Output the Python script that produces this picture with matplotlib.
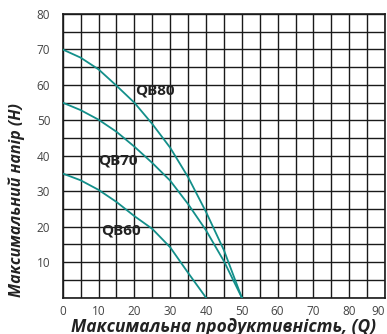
import matplotlib
matplotlib.use('Agg')
import matplotlib.pyplot as plt
import numpy as np

# QB80 curve
qb80_q = [0, 5, 10, 15, 20, 25, 30, 35, 40, 45, 50]
qb80_h = [70, 67.7, 64.4, 59.8, 55, 49, 42.3, 34, 24.2, 13.4, 0]
# QB70 curve
qb70_q = [0, 5, 10, 15, 20, 25, 30, 35, 40, 45, 50]
qb70_h = [55, 52.9, 50.2, 46.8, 42.6, 38, 33, 26.4, 19, 10.3, 0]
# QB60 curve
qb60_q = [0, 5, 10, 15, 20, 25, 30, 35, 40]
qb60_h = [35, 33.1, 30.4, 27, 23, 19.4, 14.2, 7, 0]

labels = ['QB80', 'QB70', 'QB60']
label_pos = [(25.8, 58.5), (15.3, 38.8), (16.3, 19)]

x_ticks = [0, 10, 20, 30, 40, 50, 60, 70, 80, 90]
y_ticks = [10, 20, 30, 40, 50, 60, 70, 80]

curve_color = '#138f8a'

fig = plt.figure(figsize=(3.87, 3.34), dpi=100)
ax = fig.add_axes([0.162, 0.109, 0.833, 0.849])

ax.set_xlim(0, 90)
ax.set_ylim(0, 80)
ax.set_xticks(np.arange(0, 91, 5), minor=True)
ax.set_yticks(np.arange(0, 81, 5), minor=True)
ax.set_xticks(x_ticks)
ax.set_yticks(y_ticks)
ax.grid(True, which='both', color='#1a1a1a', linewidth=1.0)
ax.tick_params(which='both', length=0, labelsize=8.5, labelcolor='#444444')
ax.tick_params(axis='x', pad=5)
ax.tick_params(axis='y', pad=9)
for t in ax.get_xticklabels() + ax.get_yticklabels():
    t.set_family('Open Sans')
ax.get_xticklabels()[-1].set_ha('right')
for s in ax.spines.values():
    s.set_color('#1a1a1a')
    s.set_linewidth(1.2)
ax.set_axisbelow(True)

for q, h in [(qb80_q, qb80_h), (qb70_q, qb70_h), (qb60_q, qb60_h)]:
    ax.plot(q, h, color=curve_color, linewidth=1.3, zorder=3)

for name, (x, y) in zip(labels, label_pos):
    ax.text(x, y, name, ha='center', va='center', fontsize=11,
            fontweight='bold', color='#222222', family='Open Sans', zorder=4)

ax.set_xlabel('Максимальна продуктивність, (Q)', fontsize=12.5, fontweight='bold',
              fontstyle='italic', color='#222222', labelpad=0, family='Open Sans')
ax.set_ylabel('Максимальний напір (H)', fontsize=11.5, fontweight='bold',
              fontstyle='italic', color='#222222', family='Open Sans')
ax.yaxis.set_label_coords(-0.118, 0.345)

fig.savefig('out.png', dpi=100)
